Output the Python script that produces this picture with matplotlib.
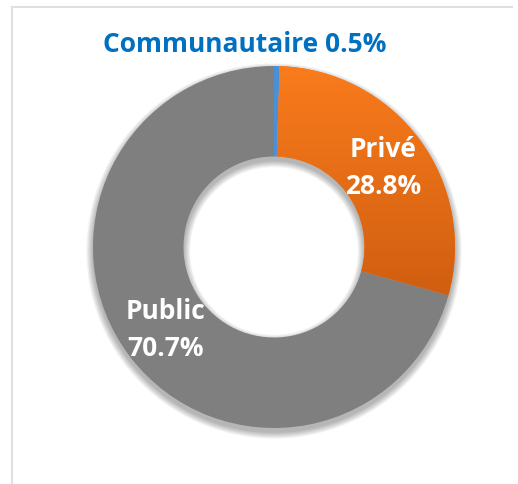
import matplotlib.pyplot as plt
import numpy as np
from matplotlib.patches import Wedge
from matplotlib.colors import LinearSegmentedColormap
from matplotlib.lines import Line2D

labels = ['Communautaire', 'Privé', 'Public']
shares = [0.5, 28.8, 70.7]
colors = ['#4A90D9', '#F47B20', '#7F7F7F']

fig = plt.figure(figsize=(5.18, 4.84), dpi=100)
ax = fig.add_axes([0, 0, 1, 1])

cx, cy, r = 274, 237, 181
hole = r * 0.5

# soft shadow under the ring (also shows at top of the hole)
for i in range(10):
    ro = r + 0.5 + i * 0.7
    ri = hole - 0.5 - i * 0.7
    ax.add_patch(Wedge((cx, cy - 4), ro, 0, 360, width=ro - ri,
                       facecolor='black', edgecolor='none', alpha=0.03, zorder=0))

wedges, _ = ax.pie(shares, colors=colors, startangle=90, counterclock=False,
                   center=(cx, cy), radius=r,
                   wedgeprops=dict(width=r - hole, linewidth=0))

# orange gradient on the Privé slice
grad = np.linspace(0, 1, 256).reshape(-1, 1)
cmap = LinearSegmentedColormap.from_list('org', ['#FA7C1C', '#C9590F'])
im = ax.imshow(grad, cmap=cmap, extent=[cx - 5, cx + r + 5, cy - 90, cy + r + 5],
               origin='upper', aspect='auto', zorder=2)
im.set_clip_path(wedges[1])

ax.set_xlim(0, 518)
ax.set_ylim(0, 484)
ax.set_aspect('equal')
ax.axis('off')

bold = dict(fontfamily='Open Sans', fontweight='bold')
ax.text(245, 440, f'{labels[0]} {shares[0]}%', color='#0070C0', fontsize=19,
        ha='center', va='center', **bold)
ax.text(383, 316, f'{labels[1]}\n{shares[1]}%', color='white', fontsize=19,
        ha='center', va='center', linespacing=1.45, zorder=5, **bold)
ax.text(166, 154, f'{labels[2]}\n{shares[2]}%', color='white', fontsize=19,
        ha='center', va='center', linespacing=1.45, zorder=5, **bold)

# light frame lines at top and left
fig.add_artist(Line2D([12 / 518, 512 / 518], [1 - 7 / 484] * 2,
                      transform=fig.transFigure, color='#DDE1E6', lw=1.5))
fig.add_artist(Line2D([12 / 518] * 2, [0, 1 - 7 / 484],
                      transform=fig.transFigure, color='#DDE1E6', lw=1.5))

fig.savefig('out.png', dpi=100)
